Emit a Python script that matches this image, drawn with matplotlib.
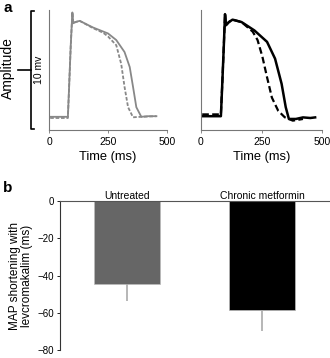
import matplotlib
matplotlib.use('Agg')
import matplotlib.pyplot as plt

plt.rcParams['font.family'] = ['Liberation Sans', 'DejaVu Sans']

# panel a: untreated traces (ms, mV)
t_ctrl = [5, 80, 86, 92, 99, 103, 112, 130, 186, 250, 285, 320, 342, 356, 370, 391, 420, 455]
v_ctrl = [1.1, 1.1, 4.0, 7.0, 9.8, 8.9, 9.0, 9.1, 8.55, 8.05, 7.5, 6.5, 5.25, 3.6, 1.9, 1.1, 1.15, 1.15]
t_ctrl_lev = [5, 80, 86, 92, 99, 103, 112, 130, 186, 230, 250, 285, 306, 320, 335, 356, 390, 455]
v_ctrl_lev = [1.0, 1.0, 4.0, 7.0, 9.8, 8.9, 9.0, 9.1, 8.5, 8.1, 7.8, 7.07, 5.5, 3.6, 1.9, 1.06, 1.1, 1.15]

# panel a: chronic metformin traces
t_met = [5, 82, 88, 94, 99, 103, 115, 130, 167, 220, 272, 305, 332, 349, 362, 391, 420, 450, 470]
v_met = [1.15, 1.15, 4.0, 7.0, 9.66, 8.74, 9.0, 9.2, 9.0, 8.3, 7.35, 5.95, 3.85, 1.9, 0.92, 0.92, 1.05, 1.0, 1.05]
t_met_lev = [5, 82, 88, 94, 99, 103, 115, 130, 167, 213, 233, 253, 272, 292, 318, 345, 378, 400, 420]
v_met_lev = [1.3, 1.3, 4.0, 7.0, 9.66, 8.74, 9.0, 9.2, 9.0, 8.2, 7.5, 6.1, 4.4, 2.7, 1.6, 1.06, 0.78, 0.85, 0.92]

# panel b
groups = ['Untreated', 'Chronic metformin']
shortening = [-44.3, -58.5]
sem = [9.2, 11.0]
bar_colors = ['#666666', '#000000']

fig = plt.figure(figsize=(3.3, 3.58), dpi=100)

ax1 = fig.add_axes([0.1485, 0.6369, 0.3576, 0.335])
ax2 = fig.add_axes([0.609, 0.6369, 0.368, 0.335])

ax1.plot(t_ctrl, v_ctrl, color='#888888', lw=1.3)
ax1.plot(t_ctrl_lev, v_ctrl_lev, color='#888888', lw=1.3, ls=(0, (2, 1)))
ax2.plot(t_met, v_met, color='black', lw=1.8)
ax2.plot(t_met_lev, v_met_lev, color='black', lw=1.6, ls=(0, (3, 1.5)))

for ax in (ax1, ax2):
    ax.set_xlim(0, 500)
    ax.set_ylim(0, 10)
    ax.set_xticks([0, 250, 500])
    ax.set_yticks([])
    for s in ('top', 'right'):
        ax.spines[s].set_visible(False)
    for s in ('left', 'bottom'):
        ax.spines[s].set_color('#777777')
        ax.spines[s].set_linewidth(0.8)
    ax.tick_params(axis='x', length=2, width=0.6, color='#777777', labelsize=7.5, pad=3)
    ax.set_xlabel('Time (ms)', fontsize=9.3, labelpad=3)

# 10 mV scale bracket
bx = -0.153
ax1.plot([bx + 0.025, bx, bx, bx + 0.025], [0.005, 0.005, 0.995, 0.995],
         transform=ax1.transAxes, color='black', lw=1.2, clip_on=False)
ax1.plot([bx - 0.11, bx], [0.5, 0.5], transform=ax1.transAxes,
         color='black', lw=1.2, clip_on=False)
ax1.text(-0.085, 0.5, '10 mv', transform=ax1.transAxes, rotation=90,
         ha='center', va='center', fontsize=7.5)
fig.text(8 / 330, 1 - 68 / 358, 'Amplitude', rotation=90, ha='center', va='center', fontsize=10)

fig.text(3 / 330, 1 - 8 / 358, 'a', fontsize=11, fontweight='bold', ha='left', va='center')
fig.text(3 / 330, 1 - 188 / 358, 'b', fontsize=11, fontweight='bold', ha='left', va='center')

# panel b bars
ax3 = fig.add_axes([0.1818, 0.021, 0.8182, 0.4184])
pos = list(range(len(groups)))
ax3.bar(pos, shortening, width=0.49, color=bar_colors, edgecolor='#bbbbbb', linewidth=0.5)
ax3.errorbar(pos, shortening, yerr=[sem, [0, 0]], fmt='none', ecolor='#aaaaaa',
             elinewidth=1.2, capsize=0)
ax3.set_xlim(-0.496, 1.504)
ax3.set_ylim(-80, 0)
ax3.set_yticks([0, -20, -40, -60, -80])
ax3.set_xticks([])
ax3.spines['right'].set_visible(False)
ax3.spines['bottom'].set_visible(False)
ax3.spines['top'].set_color('#555555')
ax3.spines['top'].set_linewidth(0.8)
ax3.spines['left'].set_color('#333333')
ax3.spines['left'].set_linewidth(0.8)
ax3.tick_params(axis='y', length=2.5, width=0.6, labelsize=7, pad=2)
ax3.set_ylabel('MAP shortening with\nlevcromakalim (ms)', fontsize=8.5, labelpad=3,
               linespacing=1.05)
for p, g in zip(pos, groups):
    ax3.text(p, 1.0, g, transform=ax3.get_xaxis_transform(), ha='center', va='bottom',
             fontsize=7.5)

fig.savefig('out.png', dpi=100)
